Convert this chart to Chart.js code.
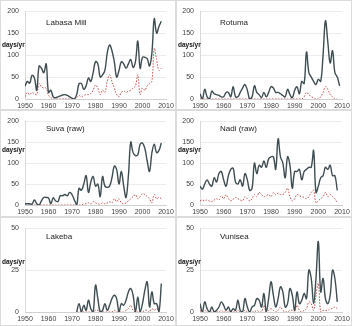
<!DOCTYPE html>
<html>
<head>
<meta charset="utf-8">
<script src="https://cdn.jsdelivr.net/npm/chart.js"></script>
<style>
  body { margin: 0; background: #fff; }
  #wrap { position: relative; width: 352px; height: 326px; overflow: hidden; }
  .panel { position: absolute; box-sizing: border-box; border: 1px solid #dcdcdc; }
  canvas { position: absolute; left: 0; top: 0; }
</style>
</head>
<body>
<div id="wrap"></div>
<script>
// Days per year above threshold, solid = total, dotted = extreme
const xTicks = [1950, 1960, 1970, 1980, 1990, 2000, 2010];

const labasaStart = 1950;
const labasaAll = [29, 40, 36, 54, 48, 20, 75, 70, 60, 80, 15, 20, 5, 3, 5, 7, 9, 10, 8, 5,
  2, 0, 10, 35, 35, 22, 30, 48, 40, 60, 85, 80, 50, 55, 65, 105, 123, 110, 85, 50,
  65, 85, 80, 70, 80, 90, 72, 85, 132, 70, 95, 95, 92, 75, 105, 183, 150, 165, 177];
const labasaHigh = [5, 15, 10, 15, 12, 10, 35, 28, 25, 25, 8, 3, 0, 0, 0, 0, 0, 0, 0, 0,
  0, 0, 3, 8, 5, 8, 10, 10, 12, 20, 32, 25, 10, 20, 15, 40, 55, 40, 25, 10,
  5, 15, 18, 15, 18, 20, 25, 30, 55, 10, 25, 20, 30, 35, 40, 115, 90, 65, 70];

const rotumaStart = 1950;
const rotumaAll = [12, 0, 22, 5, 0, 18, 12, 10, 8, 5, 5, 15, 15, 5, 28, 5, 5, 15, 25, 33,
  20, 0, 5, 30, 15, 10, 3, 15, 5, 15, 28, 25, 15, 15, 12, 8, 5, 22, 10, 3,
  20, 28, 12, 40, 35, 107, 60, 50, 40, 33, 45, 40, 100, 178, 130, 82, 110, 60, 50, 30];
const rotumaHigh = [0, 0, 0, 0, 0, 0, 0, 0, 0, 0, 0, 0, 0, 0, 0, 0, 0, 0, 0, 0,
  0, 0, 0, 0, 0, 0, 0, 0, 0, 0, 0, 0, 0, 0, 0, 0, 0, 0, 0, 0,
  0, 0, 0, 0, 5, 15, 10, 5, 3, 0, 0, 5, 15, 28, 22, 10, 5, 0, 0];

const suvaStart = 1950;
const suvaAll = [3, 3, 3, 2, 12, 3, 0, 10, 18, 18, 17, 3, 17, 10, 8, 22, 22, 25, 22, 30,
  25, 12, 0, 40, 35, 50, 70, 30, 55, 68, 45, 50, 20, 68, 45, 42, 45, 65, 93, 85,
  50, 80, 45, 18, 70, 150, 125, 118, 120, 145, 148, 135, 105, 80, 125, 145, 125, 130, 148];
const suvaHigh = [0, 0, 0, 0, 0, 0, 0, 0, 0, 0, 0, 0, 0, 0, 0, 0, 0, 0, 0, 0,
  0, 0, 0, 0, 0, 2, 3, 5, 3, 8, 5, 3, 2, 5, 3, 5, 8, 5, 15, 8,
  15, 5, 3, 5, 10, 15, 20, 25, 15, 20, 27, 25, 20, 15, 5, 25, 15, 18, 15];

const nadiStart = 1950;
const nadiAll = [45, 38, 50, 60, 50, 45, 65, 55, 75, 80, 60, 45, 70, 85, 88, 55, 50, 60, 45, 75,
  60, 35, 40, 100, 75, 95, 90, 105, 90, 110, 115, 115, 85, 158, 115, 100, 65, 115, 95, 40,
  80, 80, 85, 60, 80, 85, 90, 90, 130, 30, 45, 65, 70, 90, 85, 95, 70, 70, 35];
const nadiHigh = [10, 12, 10, 12, 9, 8, 12, 15, 12, 22, 15, 25, 15, 10, 14, 18, 15, 12, 10, 20,
  15, 10, 15, 25, 20, 30, 25, 20, 22, 25, 20, 30, 25, 28, 25, 25, 30, 40, 20, 10,
  15, 25, 22, 20, 18, 15, 20, 30, 35, 5, 10, 15, 20, 30, 20, 25, 20, 15, 5];

const lakebaStart = 1972;
const lakebaAll = [0, 5, 0, 4, 1, 7, 2, 0, 16, 8, 0, 1, 5, 1, 4, 8, 10, 8, 0, 5,
  4, 7, 12, 14, 10, 0, 9, 0, 5, 13, 18, 3, 12, 5, 5, 0, 17];
const lakebaHigh = [0, 0, 0, 0, 0, 0, 0, 0, 1, 1, 0, 0, 0, 0, 0, 0, 1, 0, 0, 0,
  0, 1, 2, 4, 1, 0, 0, 0, 0, 1, 1, 0, 2, 1, 2, 0, 0];

const vunisStart = 1950;
const vunisAll = [5, 0, 6, 2, 0, 3, 0, 1, 3, 6, 4, 1, 3, 0, 2, 1, 7, 1, 0, 8,
  3, 0, 3, 4, 8, 7, 3, 11, 0, 8, 18, 10, 3, 8, 15, 12, 3, 5, 14, 10,
  1, 12, 5, 7, 11, 8, 25, 20, 5, 20, 42, 12, 20, 8, 5, 10, 25, 20, 6];
const vunisHigh = [1, 0, 1, 0, 0, 0, 0, 0, 0, 1, 0, 0, 0, 0, 0, 0, 1, 0, 0, 1,
  0, 0, 0, 0, 1, 0, 0, 4, 0, 1, 2, 1, 0, 1, 3, 1, 0, 0, 1, 1,
  0, 4, 1, 0, 1, 2, 6, 5, 1, 10, 17, 0, 1, 1, 1, 2, 2, 3, 2];

const panels = [
  { name: 'Labasa Mill', start: labasaStart, all: labasaAll, high: labasaHigh, ymax: 200, step: 50,
    left: 0, top: 0, w: 176, h: 110, area: [24, 10, 165, 98], nameAt: [45, 22], unitY: 44 },
  { name: 'Rotuma', start: rotumaStart, all: rotumaAll, high: rotumaHigh, ymax: 200, step: 50,
    left: 176, top: 0, w: 176, h: 110, area: [23, 10, 165, 98], nameAt: [43, 22], unitY: 44 },
  { name: 'Suva (raw)', start: suvaStart, all: suvaAll, high: suvaHigh, ymax: 200, step: 50,
    left: 0, top: 110, w: 176, h: 107, area: [24, 6, 165, 94], nameAt: [45, 18], unitY: 39 },
  { name: 'Nadi (raw)', start: nadiStart, all: nadiAll, high: nadiHigh, ymax: 200, step: 50,
    left: 176, top: 110, w: 176, h: 107, area: [23, 6, 165, 94], nameAt: [43, 18], unitY: 39 },
  { name: 'Lakeba', start: lakebaStart, all: lakebaAll, high: lakebaHigh, ymax: 50, step: 25,
    left: 0, top: 217, w: 176, h: 109, area: [24, 5, 165, 94], nameAt: [45, 19], unitY: 44 },
  { name: 'Vunisea', start: vunisStart, all: vunisAll, high: vunisHigh, ymax: 50, step: 25,
    left: 176, top: 217, w: 176, h: 109, area: [23, 5, 165, 94], nameAt: [43, 19], unitY: 44 }
];

const labelPlugin = {
  id: 'panelLabels',
  afterDraw(chart) {
    const p = chart.options.plugins.panelLabels;
    const ctx = chart.ctx;
    ctx.save();
    ctx.fillStyle = '#222';
    ctx.font = '8px "Liberation Sans", Arial, sans-serif';
    ctx.textBaseline = 'middle';
    ctx.fillText(p.name, p.nameAt[0], p.nameAt[1]);
    ctx.font = 'bold 6.5px "Liberation Sans", Arial, sans-serif';
    ctx.fillStyle = '#111';
    ctx.fillText('days/yr', 1, p.unitY);
    ctx.restore();
  }
};

const wrap = document.getElementById('wrap');

panels.forEach(p => {
  const div = document.createElement('div');
  div.className = 'panel';
  div.style.left = p.left + 'px';
  div.style.top = p.top + 'px';
  div.style.width = p.w + 'px';
  div.style.height = p.h + 'px';
  const canvas = document.createElement('canvas');
  canvas.width = p.w;
  canvas.height = p.h;
  div.appendChild(canvas);
  wrap.appendChild(div);

  const [aL, aT, aR, aB] = p.area;
  const toPoints = arr => arr.map((v, i) => ({ x: p.start + i, y: v }));

  new Chart(canvas.getContext('2d'), {
    type: 'line',
    data: {
      datasets: [
        {
          data: toPoints(p.all),
          borderColor: '#3e4d51',
          borderWidth: 1.4,
          tension: 0.4,
          pointRadius: 0,
          fill: false
        },
        {
          data: toPoints(p.high),
          borderColor: '#c0504d',
          borderWidth: 1,
          borderDash: [1.5, 1.5],
          tension: 0.4,
          pointRadius: 0,
          fill: false
        }
      ]
    },
    options: {
      responsive: false,
      animation: false,
      layout: { padding: { top: aT, right: p.w - aR, left: 0, bottom: 0 } },
      plugins: {
        legend: { display: false },
        tooltip: { enabled: false },
        panelLabels: { name: p.name, nameAt: p.nameAt, unitY: p.unitY }
      },
      scales: {
        x: {
          type: 'linear',
          min: 1950,
          max: 2010,
          afterBuildTicks: axis => { axis.ticks = xTicks.map(v => ({ value: v })); },
          afterFit: axis => { axis.height = p.h - aB; },
          grid: { display: false, drawTicks: false },
          border: { display: true, color: '#d0d0d0' },
          ticks: {
            padding: 3,
            maxRotation: 0,
            autoSkip: false,
            color: '#404040',
            font: { size: 7, family: '"Liberation Sans", Arial, sans-serif' },
            callback: v => String(v)
          }
        },
        y: {
          min: 0,
          max: p.ymax,
          afterFit: axis => { axis.width = aL; },
          grid: { color: '#ececec', drawTicks: false },
          border: { display: true, color: '#d9d9d9' },
          ticks: {
            stepSize: p.step,
            padding: 6,
            color: '#404040',
            font: { size: 7, family: '"Liberation Sans", Arial, sans-serif' }
          }
        }
      }
    },
    plugins: [labelPlugin]
  });
});
</script>
</body>
</html>
